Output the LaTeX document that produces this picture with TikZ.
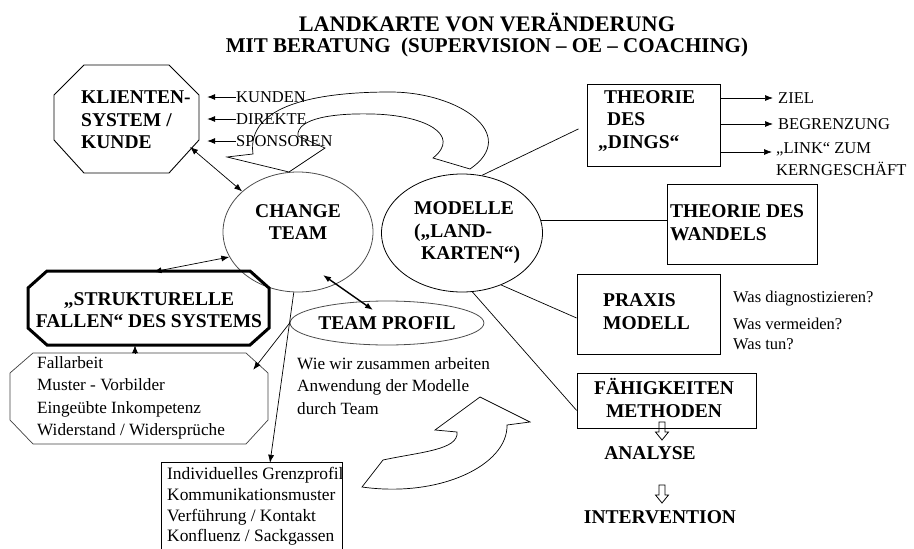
\documentclass[tikz,border=0pt]{standalone}
\usepackage{fontspec}
\setmainfont{Liberation Serif}
\usetikzlibrary{arrows.meta,calc,shapes.geometric}
\tikzset{
  bt/.style={font=\fontsize{19.5}{22.5}\selectfont\bfseries, inner sep=0pt},
  nt/.style={font=\fontsize{16.5}{22}\selectfont, inner sep=0pt},
  mt/.style={font=\fontsize{17.2}{22.5}\selectfont, inner sep=0pt},
  ttl/.style={font=\fontsize{21}{25}\selectfont\bfseries, inner sep=0pt},
  box/.style={draw, line width=0.8pt, inner sep=0pt},
  ghost/.style={inner sep=0pt},
  ell/.style={draw, ellipse, line width=0.8pt, inner sep=0pt},
  con/.style={line width=0.7pt},
  arr/.style={con, -{Latex[length=8pt,width=6pt]}},
  darr/.style={con, {Latex[length=8pt,width=6pt]}-{Latex[length=8pt,width=6pt]}},
  blockarr/.style={draw, line width=0.7pt, line join=miter},
  hollowdown/.pic={\draw[line width=0.8pt] (-3,0) -- (3,0) -- (3,10) -- (6.5,10) -- (0,18) -- (-6.5,10) -- (-3,10) -- cycle;}
}
\begin{document}
\begin{tikzpicture}[x=1pt,y=-1pt]
\useasboundingbox (0,0) rectangle (914,549);

% title
\node[ttl, font=\fontsize{22.2}{25}\selectfont\bfseries] (t1) at (487,22) {LANDKARTE VON VERÄNDERUNG};
\node[ttl] (t2) at (487,47) {MIT BERATUNG\ \ (SUPERVISION – OE – COACHING)};

% Klientensystem
\node[ghost, minimum width=145pt, minimum height=108pt] (klient) at (126.5,119) {};
\draw[line width=0.9pt] (84,65) -- (169,65) -- (199,95) -- (199,140) -- (169,173) -- (84,173) -- (54,140) -- (54,95) -- cycle;
\node[bt, align=left, anchor=west] (klienttxt) at (81,120) {KLIENTEN-\\SYSTEM /\\KUNDE};

\node[nt, anchor=west] (kunden) at (236,97) {KUNDEN};
\node[nt, anchor=west] (direkte) at (236,119) {DIREKTE};
\node[nt, anchor=west] (sponsoren) at (236,141) {SPONSOREN};
\draw[arr, shorten >=8pt] (kunden.west) -- (kunden.west -| klient.east);
\draw[arr, shorten >=8pt] (direkte.west) -- (direkte.west -| klient.east);
\draw[arr, shorten >=8pt] (sponsoren.west) -- (sponsoren.west -| klient.east);

% big top curved arrow
\draw[blockarr] (470,169) .. controls (520,135) and (460,92) .. (390,92)
  .. controls (320,92) and (246,104) .. (253,154) -- (227,157) -- (289,172) -- (325,148) -- (298,136)
  .. controls (296,118) and (335,113) .. (372,114) .. controls (425,115) and (462,135) .. (433,158) -- cycle;

% change team
\node[ell, draw=black!70, minimum width=150pt, minimum height=120pt] (change) at (298,232) {};
\node[bt, align=center] (changetxt) at (298,222) {CHANGE\\TEAM};

% modelle
\node[ell, minimum width=161pt, minimum height=118pt] (modelle) at (462,233) {};
\node[bt, align=left, anchor=west] (modelletxt) at (414,233) {MODELLE\\(„LAND-\\\hspace{7pt}KARTEN“)};

\coordinate (kc) at (190,147);
\draw[darr] (kc) -- (change.144);

% Theorie des Dings
\node[box, minimum width=133pt, minimum height=82pt] (dings) at (653.5,125) {};
\node[bt, align=left, anchor=west] (dingstxt) at (598,121) {\hspace{6pt}THEORIE\\\hspace{9pt}DES\\„DINGS“};
\draw[con, shorten >=9pt] (modelle.71) -- (dings.west);

\node[nt, anchor=west] (ziel) at (778,98) {ZIEL};
\node[nt, anchor=west] (begr) at (778,124) {BEGRENZUNG};
\node[nt, anchor=west, align=left] (link) at (776,159) {„LINK“ ZUM\\KERNGESCHÄFT};
\coordinate (linkpt) at (776,152);
\draw[arr, shorten >=5pt] (dings.east |- ziel.west) -- (ziel.west);
\draw[arr, shorten >=5pt] (dings.east |- begr.west) -- (begr.west);
\draw[arr, shorten >=4pt] (dings.east |- linkpt) -- (linkpt);

% Theorie des Wandels
\node[box, minimum width=150pt, minimum height=80pt] (wandel) at (742,224) {};
\node[bt, align=left, anchor=west] (wandeltxt) at (670,222.5) {THEORIE DES\\WANDELS};
\draw[con] (modelle.9.4) -- (modelle.9.4 -| wandel.west);

% Praxis Modell
\node[box, minimum width=143pt, minimum height=80pt] (praxis) at (648.5,314) {};
\node[bt, align=left, anchor=west] (praxistxt) at (603,311.5) {PRAXIS\\MODELL};
\draw[con] (modelle.307.6) -- ($(praxis.west)+(0,4)$);
\node[nt, anchor=west] (wasd) at (733,299) {Was diagnostizieren?};
\node[nt, anchor=west] (wasv) at (733,324) {Was vermeiden?};
\node[nt, anchor=west] (wast) at (733,344) {Was tun?};

% Fähigkeiten
\node[box, minimum width=179pt, minimum height=55pt] (faehig) at (666.5,400.5) {};
\node[bt, align=center] (faehigtxt) at (664,398) {FÄHIGKEITEN\\METHODEN};
\draw[con] (modelle.280) -- ($(faehig.south west)+(0,-18)$);
\pic at (662,422) {hollowdown};
\node[bt] (analyse) at (650,453) {ANALYSE};
\pic at (662,485) {hollowdown};
\node[bt] (interv) at (660,517) {INTERVENTION};

% strukturelle Fallen
\node[ghost, minimum width=241pt, minimum height=74pt] (struk) at (148.5,308) {};
\draw[line width=3pt, line join=miter] (47,271) -- (250,271) -- (269,288) -- (269,328) -- (250,345) -- (47,345) -- (28,328) -- (28,288) -- cycle;
\node[bt, align=center] (struktxt) at (149,310) {„STRUKTURELLE\\FALLEN“ DES SYSTEMS};
\draw[darr] ($(struk.north)+(5,1)$) -- (change.200);

% Fallarbeit
\node[ghost, minimum width=258pt, minimum height=91pt] (fall) at (139,398.5) {};
\draw[line width=0.7pt, draw=black!75] (33,353) -- (246,353) -- (268,373) -- (268,420) -- (246,444) -- (33,444) -- (10,420) -- (10,373) -- cycle;
\node[mt, align=left, anchor=west] (falltxt) at (37,398) {Fallarbeit\\Muster - Vorbilder\\Eingeübte Inkompetenz\\Widerstand / Widersprüche};
\draw[arr] ($(fall.north)+(-4,0)$) -- ($(fall.north |- struk.south)+(-4,0)$);

% Team Profil
\node[ell, draw=black!70, minimum width=150pt, minimum height=44pt, bt] (profil) at (387,323) {TEAM PROFIL};
\coordinate (cp1) at (323,275);
\coordinate (cp2) at (373,310);
\draw[darr, line width=1.4pt] (cp1) -- (cp2);
\draw[arr] (profil.west) -- ($(fall.north east)+(-15,17)$);

% Individuelles
\node[ghost, minimum width=180pt, minimum height=88pt] (indiv) at (252,507) {};
\draw[line width=0.7pt] (indiv.south west) -- (indiv.north west) -- (indiv.north east) -- (indiv.south east);
\node[mt, font=\fontsize{17.4}{20.7}\selectfont, align=left, anchor=west] (indivtxt) at (167,506.5) {Individuelles Grenzprofil\\Kommunikationsmuster\\Verführung / Kontakt\\Konfluenz / Sackgassen};
\draw[arr] (change.266) -- ($(indiv.north)+(18,0)$);

% Wie wir
\node[mt, align=left, anchor=west] (wie) at (297,386) {Wie wir zusammen arbeiten\\Anwendung der Modelle\\durch Team};

% bottom curved arrow
\draw[blockarr] (362,487) -- (383,460) .. controls (420,452) and (459,450) .. (457,432) -- (435,430) -- (480,397) -- (530,422) -- (507,425)
  .. controls (508,465) and (440,498) .. (362,487) -- cycle;
\end{tikzpicture}
\end{document}
